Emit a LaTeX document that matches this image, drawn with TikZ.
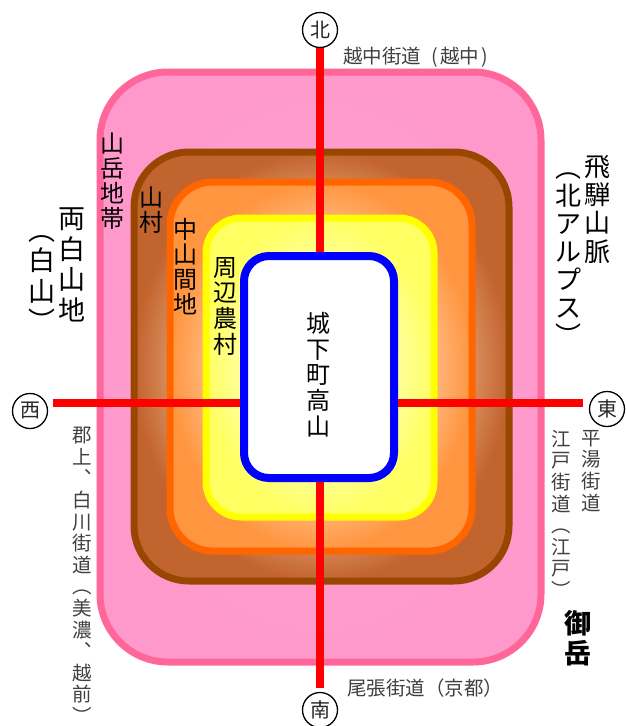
\documentclass[tikz,border=0pt]{standalone}
\usepackage{fontspec}
\setmainfont{Noto Sans CJK JP}
\usetikzlibrary{calc}
\definecolor{pinkB}{HTML}{FF6699}
\definecolor{pinkF}{HTML}{FF99CC}
\definecolor{pinkL}{HTML}{FFA6D2}
\definecolor{brB}{HTML}{994700}
\definecolor{brD}{HTML}{C2642E}
\definecolor{brL}{HTML}{D88A5C}
\definecolor{orB}{HTML}{FF6600}
\definecolor{orD}{HTML}{FF953F}
\definecolor{orL}{HTML}{FFB070}
\definecolor{yeB}{HTML}{FFFF00}
\definecolor{yeD}{HTML}{FFFF62}
\definecolor{yeL}{HTML}{FFFF9C}
\definecolor{roadgray}{HTML}{404040}
\pgfdeclareradialshading{pinksh}{\pgfpoint{0bp}{0bp}}{color(0bp)=(pinkL); color(25bp)=(pinkF); color(50bp)=(pinkF)}
\pgfdeclareradialshading{brsh}{\pgfpoint{0bp}{0bp}}{color(0bp)=(brL); color(20.5bp)=(brL); color(25bp)=(brD); color(50bp)=(brD)}
\pgfdeclareradialshading{orsh}{\pgfpoint{0bp}{0bp}}{color(0bp)=(orL); color(20bp)=(orL); color(25bp)=(orD); color(50bp)=(orD)}
\pgfdeclareradialshading{yesh}{\pgfpoint{0bp}{0bp}}{color(0bp)=(yeL); color(17bp)=(yeL); color(25bp)=(yeD); color(50bp)=(yeD)}
\newcommand\setfs[2]{\fontsize{#1}{#2}\selectfont\lineskiplimit=-100pt\relax}
\tikzset{
  zone/.style={line width=7pt},
  redline/.style={draw=red, line width=8pt},
  dirc/.style={circle, draw=black, line width=1.3pt, minimum size=35pt, inner sep=0pt,
    font=\setfs{20}{20}, text=black!85},
  lab/.style={inner sep=0pt, align=center, anchor=north, text=black},
  roadv/.style={inner sep=0pt, align=center, anchor=north, text=roadgray, font=\setfs{19.5}{21.6}},
  roadh/.style={inner sep=0pt, anchor=west, text=roadgray, font=\setfs{19.5}{21.6}},
}
\begin{document}
\begin{tikzpicture}[x=1pt, y=-1pt]
\useasboundingbox (0,0) rectangle (625,726);
% nested zones
\shadedraw[zone, shading=pinksh, draw=pinkB, rounded corners=68pt] (100,72) rectangle (541,662);
\shadedraw[zone, shading=brsh, draw=brB, rounded corners=55pt] (134,152) rectangle (509,581);
\shadedraw[zone, shading=orsh, draw=orB, rounded corners=43pt] (170,182) rectangle (472,551);
\shadedraw[zone, shading=yesh, draw=yeB, rounded corners=35pt] (206,218) rectangle (434,517);
% castle town
\node[draw=blue, fill=white, line width=8pt, rounded corners=25pt,
      minimum width=150pt, minimum height=222pt, inner sep=0pt] (city) at (319,367) {};
\node[lab, font=\setfs{24}{25.8}] (citylab) at (318,312) {城\\下\\町\\高\\山};
% direction circles
\node[dirc] (N) at (320,30) {北};
\node[dirc] (W) at (30,411) {西};
\node[dirc] (E) at (607,409) {東};
\node[dirc] (S) at (320,710) {南};
\coordinate (WL) at (53,402.5);
\coordinate (EL) at (583,402.5);
% roads
\draw[redline] (N) -- (N |- city.north);
\draw[redline, shorten <=4pt] (S) -- (S |- city.south);
\draw[redline] (WL) -- (WL -| city.west);
\draw[redline] (EL) -- (EL -| city.east);
% zone labels
\node[lab, font=\setfs{24}{25}] (gaku) at (112,133) {山\\岳\\地\\帯};
\node[lab, font=\setfs{24}{25}] (son) at (151,187) {山\\村};
\node[lab, font=\setfs{24}{25}] (chu) at (185,218) {中\\山\\間\\地};
\node[lab, font=\setfs{24}{25.6}] (shu) at (225,257) {周\\辺\\農\\村};
\node[lab, font=\setfs{27}{30.5}] (ryo) at (72,208) {両\\白\\山\\地};
\node[lab, font=\setfs{27}{30.5}] (haku) at (42,235) {︵\\白\\山\\︶};
\node[lab, font=\setfs{26}{28.3}] (hida) at (597,155) {飛\\騨\\山\\脈};
\node[lab, font=\setfs{26}{28}] (alps) at (568.5,172) {︵\\北\\ア\\ル\\プ\\ス\\︶};
\node[lab, font=\setfs{27}{30}\bfseries] (ontake) at (578,610) {御\\岳};
% road labels
\node[roadh] (etchu) at (343,57) {越中街道\hspace{10pt}(\hspace{2.5pt}越中\hspace{2.5pt})};
\node[roadh] (owari) at (347,688) {尾張街道（京都）};
\node[roadv] (gujo) at (82,427) {郡\\上\\︑\\白\\川\\街\\道\\︵\\美\\濃\\︑\\越\\前\\︶};
\node[roadv] (hirayu) at (591,430) {平\\湯\\街\\道};
\node[roadv] (edo) at (561,430) {江\\戸\\街\\道\\︵\\江\\戸\\︶};
\end{tikzpicture}
\end{document}
